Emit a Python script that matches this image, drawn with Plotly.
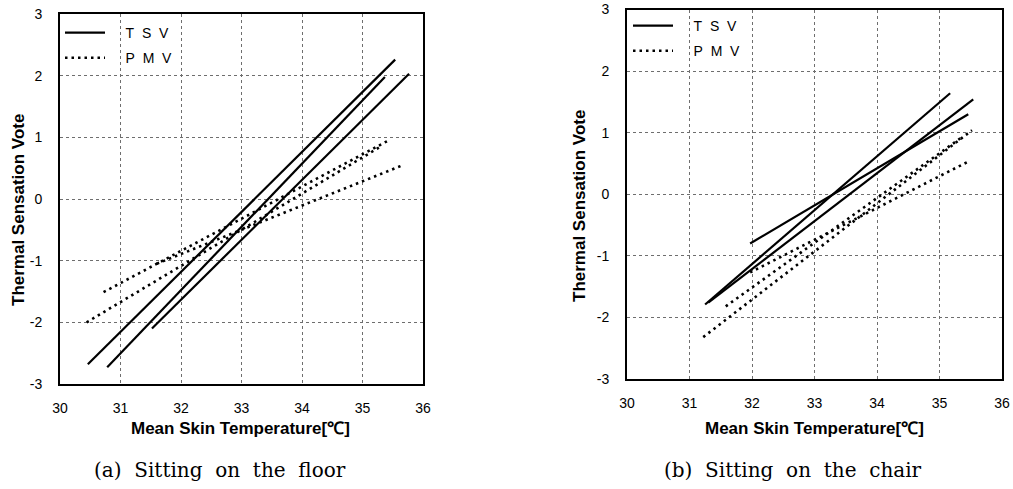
import plotly.graph_objects as go

# ---------------- data ----------------
# (a) Sitting on the floor
floor_tsv_x = [[30.46, 35.54], [30.78, 35.37], [31.52, 35.77]]
floor_tsv_y = [[-2.68, 2.26], [-2.73, 1.98], [-2.10, 2.03]]
floor_pmv_x = [[30.44, 35.30], [30.72, 35.45], [31.60, 35.67]]
floor_pmv_y = [[-2.00, 0.85], [-1.51, 0.96], [-1.05, 0.55]]

# (b) Sitting on the chair
chair_tsv_x = [[31.97, 35.46], [31.25, 35.17], [31.30, 35.54]]
chair_tsv_y = [[-0.80, 1.30], [-1.79, 1.64], [-1.76, 1.54]]
chair_pmv_x = [[31.22, 35.52], [31.58, 35.35], [31.97, 35.44]]
chair_pmv_y = [[-2.32, 1.04], [-1.82, 0.92], [-1.27, 0.52]]

x_ticks = [30, 31, 32, 33, 34, 35, 36]
y_ticks = [-3, -2, -1, 0, 1, 2, 3]
y_ticktext = ["-3", "-2", "-1", "0", "1", "2", "3"]

NB = "\u00a0"
series_names = [NB * 4 + "T" + NB * 2 + "S" + NB * 2 + "V",
                NB * 4 + "P" + NB * 2 + "M" + NB * 2 + "V"]
captions = ["(a) Sitting on the floor", "(b) Sitting on the chair"]
x_title = "Mean Skin Temperature[\u2103]"
y_title = "Thermal Sensation Vote"

# ---------------- figure ----------------
W, H = 1013, 489
fig = go.Figure()

SOLID = dict(color="black", width=2.2)
DOTTED = dict(color="black", width=2.6, dash="2.5px,4px")

panels = [
    (floor_tsv_x, floor_tsv_y, floor_pmv_x, floor_pmv_y, "x", "y", "legend"),
    (chair_tsv_x, chair_tsv_y, chair_pmv_x, chair_pmv_y, "x2", "y2", "legend2"),
]
for tx, ty, px, py, xa, ya, lg in panels:
    for i, (xs, ys) in enumerate(zip(tx, ty)):
        fig.add_trace(go.Scatter(x=xs, y=ys, mode="lines", line=SOLID,
                                 name=series_names[0], legendgroup=lg + "tsv",
                                 showlegend=(i == 0), legend=lg,
                                 xaxis=xa, yaxis=ya))
    for i, (xs, ys) in enumerate(zip(px, py)):
        fig.add_trace(go.Scatter(x=xs, y=ys, mode="lines", line=DOTTED,
                                 name=series_names[1], legendgroup=lg + "pmv",
                                 showlegend=(i == 0), legend=lg,
                                 xaxis=xa, yaxis=ya))

TICKFONT = dict(family="Liberation Sans, Arial, sans-serif", size=14, color="black")
common_x = dict(range=[30, 36], tickvals=x_ticks, showgrid=True, gridcolor="#6e6e6e",
                griddash="dot", gridwidth=1, zeroline=False, showline=True, mirror=True,
                linecolor="black", linewidth=2, ticks="", tickfont=TICKFONT,
                ticklabelstandoff=10, fixedrange=True, automargin=False)
common_y = dict(range=[-3, 3], tickvals=y_ticks, ticktext=y_ticktext, showgrid=True,
                gridcolor="#6e6e6e", griddash="dot", gridwidth=1, zeroline=False,
                showline=True, mirror=True, linecolor="black", linewidth=2, ticks="",
                tickfont=TICKFONT, ticklabelstandoff=13, fixedrange=True, automargin=False)

LEGFONT = dict(family="Liberation Sans, Arial, sans-serif", size=14, color="black")
fig.update_layout(
    width=W, height=H,
    margin=dict(l=0, r=0, t=0, b=0, autoexpand=False),
    paper_bgcolor="white", plot_bgcolor="white",
    xaxis=dict(common_x, domain=[60 / W, 423 / W], anchor="y"),
    yaxis=dict(common_y, domain=[(H - 384) / H, (H - 14) / H], anchor="x"),
    xaxis2=dict(common_x, domain=[627 / W, 1002 / W], anchor="y2"),
    yaxis2=dict(common_y, domain=[(H - 379) / H, (H - 9.5) / H], anchor="x2"),
    legend=dict(x=60 / W, y=(H - 17) / H, xanchor="left", yanchor="top",
                bgcolor="rgba(0,0,0,0)", borderwidth=0, itemwidth=40,
                font=LEGFONT, tracegroupgap=4),
    legend2=dict(x=628 / W, y=(H - 10) / H, xanchor="left", yanchor="top",
                 bgcolor="rgba(0,0,0,0)", borderwidth=0, itemwidth=40,
                 font=LEGFONT, tracegroupgap=4),
    showlegend=True,
    hovermode=False,
)

TITLEFONT = dict(family="Liberation Sans, Arial, sans-serif", size=17, color="black")
CAPFONT = dict(family="DejaVu Serif, serif", size=20, color="black")
ann = []
# axis titles
for cx in (240, 814):
    ann.append(dict(text="<b>" + x_title + "</b>", x=cx / W, y=(H - 428) / H,
                    xref="paper", yref="paper", showarrow=False, font=TITLEFONT,
                    xanchor="center", yanchor="middle"))
for cx, cy in ((19, 210), (579, 206)):
    ann.append(dict(text="<b>" + y_title + "</b>", x=cx / W, y=(H - cy) / H,
                    xref="paper", yref="paper", showarrow=False, font=TITLEFONT,
                    textangle=-90, xanchor="center", yanchor="middle"))
# captions (wide word spacing as in the reference)
for cap, cx in zip(captions, (220, 793)):
    ann.append(dict(text=cap.replace(" ", NB * 2), x=cx / W, y=(H - 470) / H,
                    xref="paper", yref="paper", showarrow=False, font=CAPFONT,
                    xanchor="center", yanchor="middle"))
fig.update_layout(annotations=ann)

fig.write_html("out.html", config={"displayModeBar": False, "staticPlot": True},
               post_script="document.body.style.margin='0';document.body.style.overflow='hidden';")
